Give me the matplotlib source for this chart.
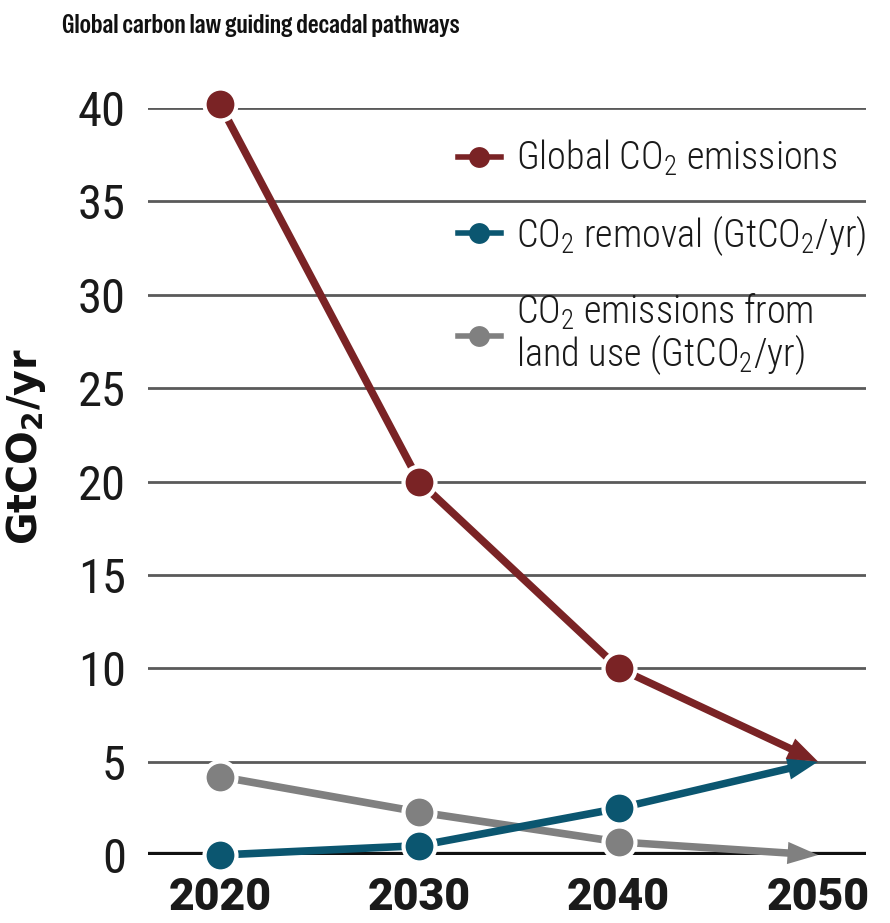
import matplotlib
matplotlib.use("Agg")
import matplotlib.pyplot as plt
from matplotlib.lines import Line2D

years = [2020, 2030, 2040, 2050]
global_emissions = [40.2, 20.0, 10.0, 5.0]
co2_removal = [0.0, 0.5, 2.5, 5.0]
land_use = [4.2, 2.3, 0.7, 0.0]
series_labels = ["Global CO$_\\mathregular{2}$ emissions",
                 "CO$_\\mathregular{2}$ removal (GtCO$_\\mathregular{2}$/yr)",
                 "CO$_\\mathregular{2}$ emissions from\nland use (GtCO$_\\mathregular{2}$/yr)"]
yticks = [0, 5, 10, 15, 20, 25, 30, 35, 40]
title = "Global carbon law guiding decadal pathways"
ylabel = "GtCO$_\\mathregular{2}$/yr"

colors = ["#7a2325", "#0b5670", "#808080"]

COND = "Roboto Condensed"
plt.rcParams["font.family"] = [COND, "DejaVu Sans"]

W, H = 890, 923
fig = plt.figure(figsize=(W / 100, H / 100), dpi=100)
left, right = 148, 866
top, bottom = 108, 855
ax = fig.add_axes([left / W, 1 - bottom / H, (right - left) / W, (bottom - top) / H])
ax.set_ylim(0, 40)
ax.set_xlim(2016.4, 2052.4)

for s in ax.spines.values():
    s.set_visible(False)

for t in yticks:
    if t == 0:
        ax.axhline(t, color="#111111", lw=4.5, zorder=1)
    else:
        ax.axhline(t, color="#5a5a5a", lw=2.0, zorder=1)

ax.set_yticks(yticks)
ax.set_yticklabels([str(t) for t in yticks], fontsize=35, color="#1a1a1a",
                   family=[COND, "DejaVu Sans"], fontweight="normal")
ax.set_xticks(years)
ax.set_xticklabels([str(y) for y in years], fontsize=32, fontweight="black",
                   family=["Roboto", "DejaVu Sans"], color="#1a1a1a")
ax.tick_params(axis="y", length=0, pad=16)
ax.tick_params(axis="x", length=0, pad=16)

all_series = [land_use, co2_removal, global_emissions]
all_colors = [colors[2], colors[1], colors[0]]
for i, (vals, c) in enumerate(zip(all_series, all_colors)):
    z = 3 + i
    ax.annotate("", xy=(years[-1], vals[-1]), xytext=(years[-2], vals[-2]),
                arrowprops=dict(arrowstyle="simple,head_length=1.1,head_width=0.8,tail_width=0.27",
                                fc=c, ec="none", lw=0, shrinkA=0, shrinkB=0,
                                mutation_scale=20),
                zorder=z, annotation_clip=False)
    ax.plot(years[:-1], vals[:-1], color=c, lw=5.5, solid_capstyle="butt",
            zorder=z, clip_on=False)
    ax.plot(years[:-1], vals[:-1], "o", color=c, ms=23, mec="white", mew=3,
            zorder=z + 0.5, clip_on=False)

handles = [Line2D([], [], color=c, lw=4, marker="o", ms=15, mew=0)
           for c in colors]
leg = fig.legend(handles, series_labels, loc="upper left",
                 bbox_to_anchor=(458 / W, 1 - 138 / H),
                 frameon=False, prop={"family": [COND, "DejaVu Sans"], "size": 27.5},
                 handlelength=1.12, handletextpad=0.4, labelspacing=0.9,
                 borderpad=0, borderaxespad=0)
for t in leg.get_texts():
    t.set_color("#1a1a1a")
    t.set_fontweight("light")
    t.set_linespacing(1.0)

fig.text(62 / W, 1 - 33 / H, title, fontsize=19.5,
         family=["Special Gothic Condensed One", "DejaVu Sans"],
         va="baseline", ha="left", color="#111111")
fig.text(26 / W, 1 - 447 / H, ylabel, fontsize=28.5, fontweight="bold",
         family=["DejaVu Sans"],
         rotation=90, va="center", ha="center", color="#111111")

fig.savefig("out.png", dpi=100)
